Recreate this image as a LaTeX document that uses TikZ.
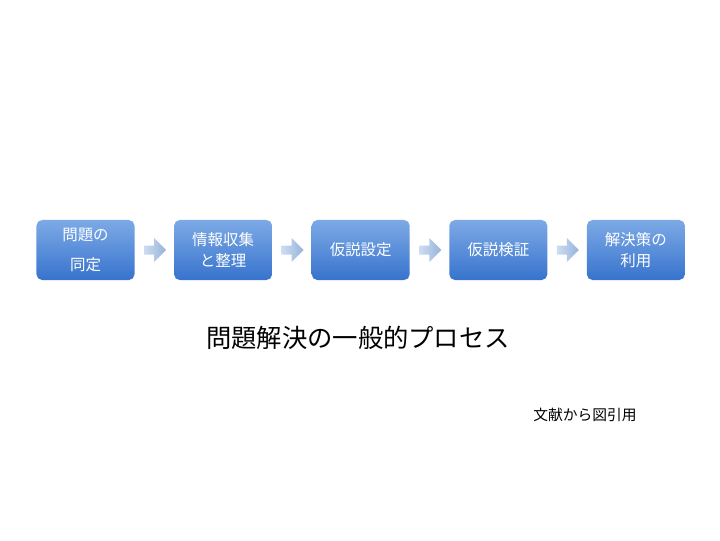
\documentclass[tikz,border=0pt]{standalone}
\usepackage{fontspec}
\setmainfont{Noto Sans CJK JP}
\usetikzlibrary{positioning,shapes.arrows}

\definecolor{boxtop}{RGB}{125,170,230}
\definecolor{boxbot}{RGB}{55,115,205}
\definecolor{arrtop}{RGB}{205,220,240}
\definecolor{arrbot}{RGB}{150,180,220}

\begin{document}
\begin{tikzpicture}[x=0.025cm,y=-0.025cm,
  step_box/.style={rounded corners=4pt, top color=boxtop, bottom color=boxbot,
    draw=none, minimum width=2.45cm, minimum height=1.5cm, text=white,
    font=\fontsize{11}{15}\selectfont, align=center},
  flow/.style={single arrow, single arrow head extend=2pt, draw=none,
    left color=arrtop, right color=arrbot, minimum width=0.6cm,
    minimum height=0.55cm, inner sep=1pt}
]
\useasboundingbox (0,0) rectangle (720,540);

% process steps
\node[step_box] (p1) at (85.5,250) {問題の\\[6pt]同定};
\node[step_box, right=0.975cm of p1] (p2) {情報収集\\と整理};
\node[step_box, right=0.975cm of p2] (p3) {仮説設定};
\node[step_box, right=0.975cm of p3] (p4) {仮説検証};
\node[step_box, right=0.975cm of p4] (p5) {解決策の\\利用};

% arrows between steps
\node[flow, right=0.225cm of p1] (a1) {};
\node[flow, right=0.225cm of p2] (a2) {};
\node[flow, right=0.225cm of p3] (a3) {};
\node[flow, right=0.225cm of p4] (a4) {};

% captions
\node[font=\fontsize{18}{20}\selectfont] (title) at (358,338) {問題解決の一般的プロセス};
\node[font=\fontsize{10.5}{12}\selectfont] (source) at (585,415) {文献から図引用};
\end{tikzpicture}
\end{document}
